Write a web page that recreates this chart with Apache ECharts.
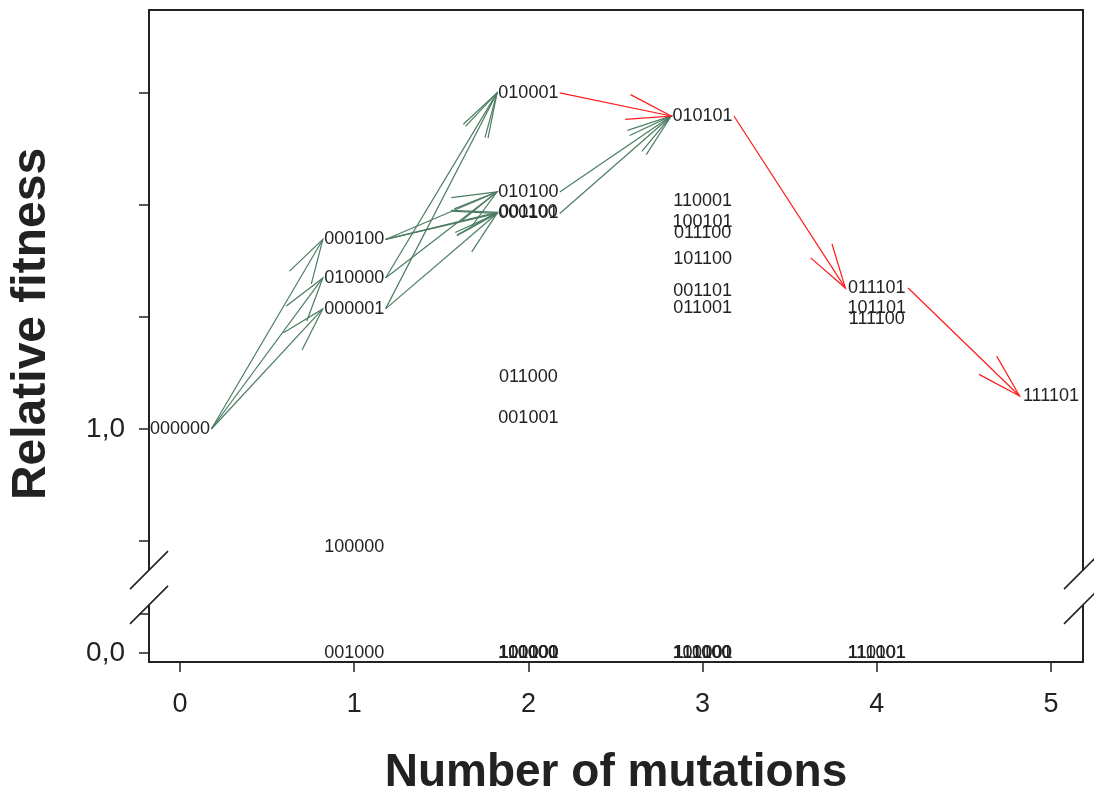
<!DOCTYPE html>
<html>
<head>
<meta charset="utf-8">
<title></title>
<script src="https://cdn.jsdelivr.net/npm/echarts@6/dist/echarts.min.js"></script>
<style>
  html, body { margin: 0; padding: 0; background: #fff; }
  #main { width: 1094px; height: 793px; }
</style>
</head>
<body>
<div id="main"></div>
<script>
// genotypes, number of mutations and relative fitness
var genotypes = ['000000',
  '000100', '010000', '000001', '100000', '001000',
  '010001', '010100', '001100', '000101', '011000', '001001', '110000', '101000', '100100', '100001',
  '010101', '110001', '100101', '011100', '101100', '001101', '011001', '111000', '110100', '101001',
  '011101', '101101', '111100', '111001', '110101',
  '111101'];
var mutations = [0,
  1, 1, 1, 1, 1,
  2, 2, 2, 2, 2, 2, 2, 2, 2, 2,
  3, 3, 3, 3, 3, 3, 3, 3, 3, 3,
  4, 4, 4, 4, 4,
  5];
var fitness = [1.000,
  1.846, 1.674, 1.536, 0.475, 0,
  2.500, 2.058, 1.967, 1.962, 1.232, 1.049, 0, 0, 0, 0,
  2.397, 2.018, 1.924, 1.873, 1.759, 1.616, 1.542, 0, 0, 0,
  1.629, 1.542, 1.491, 0, 0,
  1.147];

// accessible steps (green) and the red path
var greenFrom = ['000000', '000000', '000000', '000100', '000100', '000100', '010000', '010000', '000001', '000001', '010100', '000101'];
var greenTo   = ['000100', '010000', '000001', '010100', '001100', '000101', '010001', '010100', '010001', '000101', '010101', '010101'];
var redFrom = ['010001', '010101', '011101'];
var redTo   = ['010101', '011101', '111101'];

var xTicks = [0, 1, 2, 3, 4, 5];
var yTicks = [0, 0.175, 0.5, 1, 1.5, 2, 2.5];
var yLabels = [0, 1];

var FONT = "'Liberation Sans', Arial, sans-serif";
var INK = '#222';

function point(g) {
  var i = genotypes.indexOf(g);
  return [mutations[i], fitness[i]];
}
function edges(from, to) {
  var out = [];
  for (var k = 0; k < from.length; k++) {
    var a = point(from[k]), b = point(to[k]);
    out.push([a[0], a[1], b[0], b[1]]);
  }
  return out;
}

var labelData = [];
for (var i = 0; i < genotypes.length; i++) {
  labelData.push([mutations[i], fitness[i], genotypes[i]]);
}

function arrowRenderer(color) {
  return function (params, api) {
    var off = 0.18;
    var p0 = api.coord([api.value(0) + off, api.value(1)]);
    var p1 = api.coord([api.value(2) - off, api.value(3)]);
    var ang = Math.atan2(p0[1] - p1[1], p0[0] - p1[0]);
    var len = 46, spread = 16 * Math.PI / 180;
    var b1 = [p1[0] + len * Math.cos(ang + spread), p1[1] + len * Math.sin(ang + spread)];
    var b2 = [p1[0] + len * Math.cos(ang - spread), p1[1] + len * Math.sin(ang - spread)];
    return {
      type: 'group',
      children: [
        { type: 'line', shape: { x1: p0[0], y1: p0[1], x2: p1[0], y2: p1[1] },
          style: { stroke: color, lineWidth: 1.2 } },
        { type: 'polyline', shape: { points: [b1, p1, b2] },
          style: { stroke: color, lineWidth: 1.2, fill: null } }
      ]
    };
  };
}

var myChart = echarts.init(document.getElementById('main'));
myChart.setOption({
  animation: false,
  backgroundColor: '#fff',
  grid: { left: 149, right: 11, top: 10, bottom: 131, show: true, containLabel: false,
    outerBoundsMode: 'none',
    borderColor: INK, borderWidth: 2, backgroundColor: 'transparent' },
  xAxis: {
    type: 'value', min: -0.178, max: 5.184,
    name: 'Number of mutations', nameLocation: 'middle', nameGap: 88,
    nameTextStyle: { fontFamily: FONT, fontSize: 46, fontWeight: 'bold', color: INK },
    axisLine: { show: true, onZero: false, lineStyle: { color: INK, width: 2 } },
    axisTick: { show: true, length: 10, customValues: xTicks, lineStyle: { color: INK, width: 1.5 } },
    axisLabel: { customValues: xTicks, margin: 29, fontFamily: FONT, fontSize: 27, color: INK },
    splitLine: { show: false }
  },
  yAxis: {
    type: 'value', min: -0.04, max: 2.87,
    name: 'Relative fitness', nameLocation: 'middle', nameGap: 93,
    nameTextStyle: { fontFamily: FONT, fontSize: 48, fontWeight: 'bold', color: INK,
      padding: [0, 0, 0, 24] },
    axisLine: { show: true, onZero: false, lineStyle: { color: INK, width: 2 } },
    axisTick: { show: true, length: 10, customValues: yTicks, lineStyle: { color: INK, width: 1.5 } },
    axisLabel: { customValues: yLabels, margin: 24, fontFamily: FONT, fontSize: 28, color: INK,
      formatter: function (v) { return v.toFixed(1).replace('.', ','); } },
    splitLine: { show: false }
  },
  series: [
    {
      type: 'custom', name: 'green', clip: false,
      encode: { x: [0, 2], y: [1, 3] },
      data: edges(greenFrom, greenTo),
      renderItem: arrowRenderer('#4b7d62'),
      z: 2
    },
    {
      type: 'custom', name: 'red', clip: false,
      encode: { x: [0, 2], y: [1, 3] },
      data: edges(redFrom, redTo),
      renderItem: arrowRenderer('#ff1a1a'),
      z: 2
    },
    {
      type: 'custom', name: 'labels', clip: false,
      encode: { x: 0, y: 1 },
      data: labelData,
      renderItem: function (params, api) {
        var p = api.coord([api.value(0), api.value(1)]);
        return {
          type: 'text', x: p[0], y: p[1],
          style: { text: labelData[params.dataIndex][2], fill: INK,
            font: '18px ' + FONT, align: 'center', verticalAlign: 'middle' }
        };
      },
      z: 3
    }
  ]
});

// axis break marks on both sides, between these fitness values
var breakHi = 0.37, breakLo = 0.215;
var xl = myChart.convertToPixel({ xAxisIndex: 0 }, -0.178);
var xr = myChart.convertToPixel({ xAxisIndex: 0 }, 5.184);
var yh = myChart.convertToPixel({ yAxisIndex: 0 }, breakHi);
var yl = myChart.convertToPixel({ yAxisIndex: 0 }, breakLo);
var marks = [];
[xl, xr].forEach(function (x) {
  marks.push({ type: 'rect', shape: { x: x - 3, y: yh, width: 6, height: yl - yh },
    style: { fill: '#fff' }, z: 100 });
  [yh, yl].forEach(function (y) {
    marks.push({ type: 'line', shape: { x1: x - 19, y1: y + 19, x2: x + 19, y2: y - 19 },
      style: { stroke: INK, lineWidth: 1.6 }, z: 101 });
  });
});
myChart.setOption({ graphic: marks });
</script>
</body>
</html>
